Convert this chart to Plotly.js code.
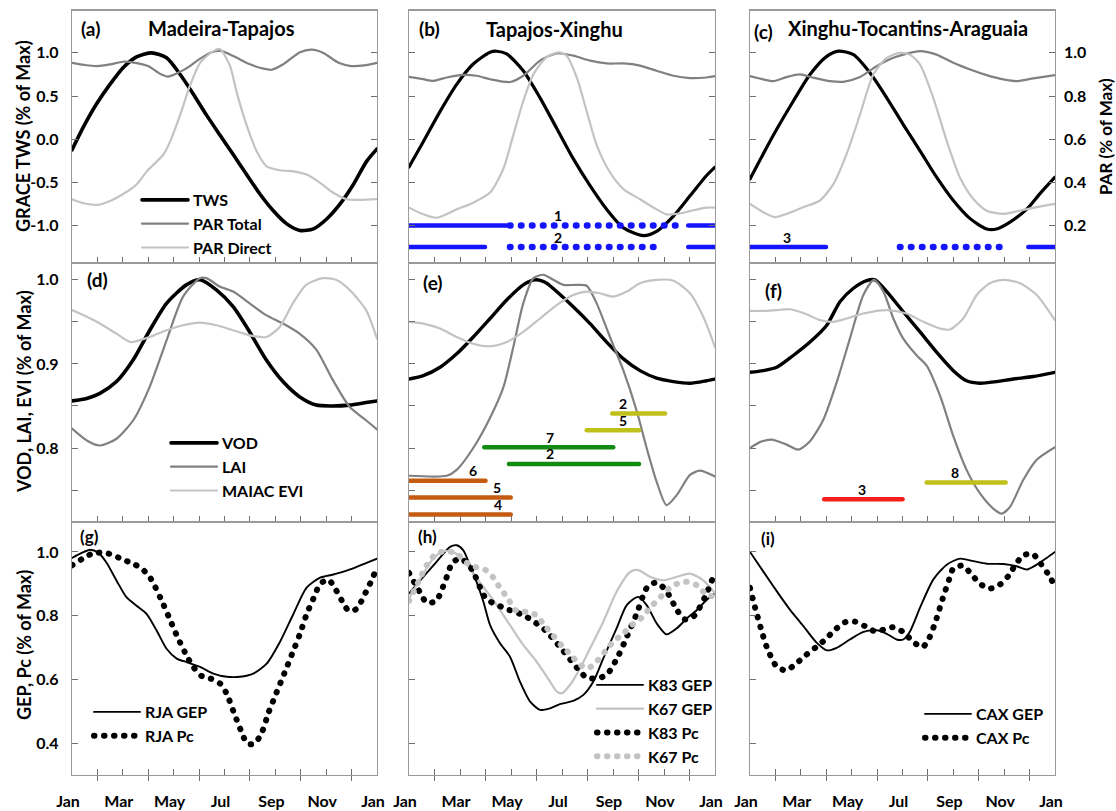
<!DOCTYPE html>
<html><head><meta charset="utf-8">
<script src="https://cdn.plot.ly/plotly-3.0.1.min.js"></script>
<style>html,body{margin:0;padding:0;background:#fff}</style>
</head><body><div id="chart" style="width:1116px;height:811px"></div>
<script>
// ---------------- DATA (months: 0 = Jan ... 12 = next Jan) ----------------
const monthTickVals = [0,1,2,3,4,5,6,7,8,9,10,11,12];
const monthTickText = ['Jan','','Mar','','May','','Jul','','Sep','','Nov','','Jan'];

// (a) Madeira-Tapajos
const tws_a_m = [0,0.45,0.97,1.5,2.01,2.54,3.13,3.72,4.25,4.77,5.3,5.82,6.35,6.87,7.4,7.92,8.45,8.97,9.5,10.02,10.54,11.07,11.59,12];
const tws_a   = [-0.124,0.143,0.41,0.638,0.829,0.954,1.0,0.943,0.752,0.524,0.276,0.048,-0.181,-0.41,-0.638,-0.829,-0.981,-1.057,-1.038,-0.924,-0.752,-0.524,-0.257,-0.112];
const parTot_a_m = [0,0.5,1.0,1.5,2.0,2.49,2.99,3.5,3.79,4.25,4.64,5.0,5.5,5.89,6.35,7.0,7.53,7.86,8.31,8.97,9.43,9.89,10.49,10.99,11.5,12];
const parTot_a   = [0.954,0.944,0.939,0.947,0.959,0.954,0.939,0.901,0.89,0.912,0.939,0.97,1.003,1.008,0.985,0.947,0.927,0.922,0.947,1.003,1.015,1.0,0.954,0.939,0.942,0.954];
const parDir_a_m = [0,0.5,1.0,1.5,2.0,2.54,2.94,3.59,3.86,4.25,4.64,5.04,5.56,5.82,6.22,6.48,6.87,7.27,7.66,8.18,8.71,9.23,9.76,10.28,10.81,11.33,12];
const parDir_a   = [0.322,0.302,0.296,0.314,0.345,0.39,0.451,0.528,0.589,0.71,0.848,0.954,1.008,1.018,0.939,0.817,0.665,0.543,0.474,0.456,0.451,0.436,0.398,0.352,0.322,0.319,0.322];

// (b) Tapajos-Xinghu
const tws_b_m = [0,0.56,1.22,1.87,2.52,3.18,3.44,3.83,4.48,5.14,5.79,6.44,7.1,7.75,8.41,9.19,9.71,10.37,11.02,11.67,12];
const tws_b   = [-0.323,-0.029,0.323,0.636,0.871,1.008,1.019,0.988,0.793,0.479,0.127,-0.225,-0.538,-0.812,-1.027,-1.117,-1.067,-0.89,-0.656,-0.421,-0.323];
const parTot_b_m = [0,0.56,0.95,1.48,2.13,2.65,3.18,3.96,4.48,5.14,5.79,6.44,7.1,7.75,8.41,9.06,9.71,10.37,11.02,11.67,12];
const parTot_b   = [0.889,0.878,0.87,0.886,0.898,0.894,0.878,0.865,0.894,0.964,0.998,0.987,0.964,0.951,0.951,0.941,0.917,0.894,0.883,0.886,0.892];
const parDir_b_m = [0,0.56,1.08,1.87,2.52,3.18,3.7,4.09,4.48,4.88,5.4,5.86,6.18,6.58,6.97,7.36,7.88,8.41,9.06,9.71,10.1,10.63,11.02,11.67,12];
const parDir_b   = [0.283,0.252,0.236,0.275,0.306,0.353,0.463,0.619,0.776,0.901,0.98,1.003,0.987,0.886,0.729,0.573,0.447,0.369,0.322,0.275,0.252,0.256,0.267,0.283,0.283];

// (c) Xinghu-Tocantins-Araguaia
const tws_c_m = [0,0.52,1.05,1.7,2.36,3.02,3.48,4.07,4.72,5.38,6.03,6.69,7.34,8.0,8.66,9.31,9.7,10.23,10.89,11.41,12];
const tws_c   = [-0.46,-0.17,0.115,0.44,0.75,0.96,1.02,0.98,0.77,0.48,0.17,-0.135,-0.44,-0.71,-0.92,-1.04,-1.04,-0.96,-0.81,-0.63,-0.44];
const parTot_c_m = [0,0.52,0.92,1.44,1.97,2.49,3.15,3.67,4.33,4.98,5.64,6.29,6.69,7.34,8.0,8.66,9.31,9.97,10.49,11.15,12];
const parTot_c   = [0.892,0.877,0.869,0.888,0.9,0.885,0.869,0.866,0.888,0.938,0.977,1.0,1.008,0.992,0.954,0.923,0.897,0.877,0.869,0.882,0.897];
const parDir_c_m = [0,0.52,0.98,1.44,2.1,2.75,3.28,3.8,4.33,4.85,5.38,5.9,6.29,6.69,7.21,7.74,8.26,8.79,9.31,9.97,10.62,11.28,12];
const parDir_c   = [0.3,0.262,0.239,0.254,0.285,0.316,0.392,0.531,0.715,0.9,0.977,1.0,0.992,0.946,0.792,0.592,0.423,0.323,0.269,0.254,0.269,0.285,0.3];

// dry-season bars (PAR axis level, month intervals)
const dry_b_level = [0.2, 0.1];
const dry_b_solid = [[[0,3.9],[10.95,12]], [[0,2.98],[10.95,12]]];
const dry_b_dotted = [[[3.96,10.63]], [[3.96,9.65]]];
const dry_b_label = ['1','2'];
const dry_b_labelAt = [5.86, 5.86];
const dry_c_level = [0.1];
const dry_c_solid = [[[0,2.99],[10.95,12]]];
const dry_c_dotted = [[[5.9,9.9]]];
const dry_c_label = ['3'];
const dry_c_labelAt = [1.44];

// (d)
const vod_d_m = [0,0.58,1.1,1.75,2.41,3.06,3.72,4.5,5.03,5.68,6.34,6.99,7.64,8.3,8.95,9.61,10.26,10.92,11.57,12];
const vod_d   = [0.856,0.859,0.865,0.879,0.905,0.94,0.972,0.994,1.0,0.988,0.968,0.938,0.905,0.879,0.861,0.851,0.85,0.851,0.854,0.856];
const lai_d_m = [0,0.58,1.1,1.75,2.41,3.06,3.72,4.37,5.03,5.29,5.81,6.34,6.99,7.64,8.3,8.95,9.61,10.26,10.92,11.57,12];
const lai_d   = [0.823,0.809,0.803,0.811,0.833,0.873,0.928,0.98,1.002,1.002,0.992,0.986,0.972,0.958,0.948,0.936,0.917,0.881,0.849,0.833,0.822];
const evi_d_m = [0,0.58,1.1,1.75,2.3,3.06,3.72,4.37,5.03,5.68,6.34,6.99,7.64,8.17,8.69,9.21,9.87,10.39,10.92,11.57,12];
const evi_d   = [0.964,0.956,0.948,0.936,0.926,0.932,0.94,0.946,0.949,0.946,0.94,0.934,0.932,0.944,0.972,0.994,1.002,1.0,0.988,0.964,0.93];

// (e)
const vod_e_m = [0,0.56,1.22,1.87,2.52,3.18,3.83,4.48,4.97,5.4,5.79,6.44,7.1,7.75,8.41,9.06,9.71,10.37,11.02,11.67,12];
const vod_e   = [0.882,0.886,0.896,0.912,0.932,0.954,0.976,0.994,1.0,0.996,0.986,0.968,0.948,0.926,0.906,0.892,0.883,0.879,0.877,0.88,0.882];
const lai_e_m = [0,1.48,1.87,2.52,3.18,3.7,4.09,4.48,4.88,5.27,5.66,6.05,6.58,6.97,7.36,7.88,8.41,8.93,9.32,9.71,10.1,10.5,11.02,11.41,12];
const lai_e   = [0.767,0.767,0.774,0.8,0.836,0.872,0.92,0.972,1.002,1.006,1.0,0.994,0.994,0.993,0.972,0.932,0.892,0.844,0.8,0.76,0.732,0.744,0.768,0.773,0.766];
const evi_e_m = [0,0.56,1.22,1.87,2.52,3.18,3.83,4.48,5.14,5.79,6.44,6.97,7.49,8.01,8.54,9.06,9.71,10.37,11.02,11.54,12];
const evi_e   = [0.95,0.948,0.942,0.932,0.924,0.921,0.926,0.938,0.954,0.97,0.982,0.986,0.984,0.98,0.986,0.996,1.0,0.999,0.984,0.956,0.92];
const bars_e_label = ['2','5','7','2','6','5','4'];
const bars_e_start = [7.97,6.97,2.95,3.92,0,0,0];
const bars_e_end   = [10.04,9.02,8.01,9.02,3.0,3.99,3.99];
const bars_e_level = [0.841,0.821,0.801,0.781,0.761,0.741,0.721];
const bars_e_kind  = ['yellow','yellow','green','green','orange','orange','orange'];
const bars_e_labelAt = [8.4,8.4,5.53,5.53,2.52,3.44,3.5];

// (f)
const vod_f_m = [0,0.52,1.05,1.7,2.36,3.02,3.54,4.07,4.59,4.92,5.38,6.03,6.69,7.34,8.0,8.52,9.05,9.7,10.36,11.15,12];
const vod_f   = [0.89,0.892,0.896,0.91,0.926,0.946,0.974,0.99,0.999,1.0,0.986,0.962,0.938,0.914,0.892,0.88,0.877,0.879,0.882,0.885,0.89];
const lai_f_m = [0,0.39,0.85,1.44,1.9,2.36,2.89,3.41,3.93,4.46,4.88,5.25,5.64,6.03,6.56,6.95,7.48,8.0,8.52,9.05,9.57,9.9,10.23,10.75,11.28,12];
const lai_f   = [0.8,0.807,0.81,0.804,0.798,0.808,0.834,0.878,0.93,0.982,1.0,0.986,0.954,0.93,0.91,0.898,0.862,0.814,0.774,0.746,0.728,0.722,0.73,0.762,0.786,0.801];
const evi_f_m = [0,0.52,1.05,1.57,2.23,2.75,3.28,3.8,4.46,5.38,6.16,6.82,7.48,7.87,8.39,8.92,9.44,9.97,10.62,11.28,12];
const evi_f   = [0.963,0.963,0.964,0.965,0.959,0.952,0.95,0.954,0.96,0.964,0.96,0.95,0.942,0.941,0.954,0.982,0.996,1.0,0.996,0.982,0.952];
const bars_f_label = ['3','8'];
const bars_f_start = [2.92,6.95];
const bars_f_end   = [6.0,10.06];
const bars_f_level = [0.739,0.759];
const bars_f_kind  = ['red','yellow'];
const bars_f_labelAt = [4.39,8.07];

// (g) RJA
const gep_rja_m = [0,0.38,0.71,1.04,1.36,1.76,2.15,2.54,2.94,3.33,3.72,4.12,4.51,5.04,5.56,6.09,6.61,7.13,7.66,8.18,8.71,9.23,9.76,10.28,10.94,11.59,12];
const gep_rja   = [0.981,0.997,1.007,0.997,0.966,0.909,0.857,0.831,0.805,0.753,0.696,0.665,0.654,0.639,0.618,0.608,0.608,0.618,0.649,0.717,0.805,0.888,0.919,0.929,0.945,0.966,0.979];
const pc_rja_m = [0,0.42,0.81,1.21,1.6,1.99,2.39,2.78,3.1,3.49,3.83,4.16,4.54,4.77,5.09,5.46,5.85,6.09,6.39,6.7,6.87,7.05,7.24,7.48,7.74,8.05,8.35,8.66,8.97,9.23,9.56,9.73,9.95,10.12,10.39,10.61,10.85,11.05,11.23,11.44,11.63,11.82,12];
const pc_rja   = [0.958,0.979,0.995,0.998,0.991,0.976,0.964,0.945,0.916,0.854,0.792,0.731,0.67,0.639,0.611,0.602,0.585,0.554,0.491,0.429,0.4,0.396,0.403,0.435,0.497,0.559,0.618,0.68,0.743,0.804,0.865,0.896,0.91,0.911,0.88,0.848,0.818,0.815,0.824,0.854,0.885,0.916,0.955];

// (h) K83 / K67
const gep_k83_m = [0,0.56,1.08,1.61,1.87,2.13,2.39,2.65,2.92,3.18,3.57,3.96,4.35,4.75,5.14,5.53,5.92,6.44,6.84,7.23,7.62,8.14,8.54,8.99,9.32,9.71,10.1,10.5,10.89,11.28,11.67,12];
const gep_k83   = [0.87,0.922,0.969,1.016,1.021,1.005,0.958,0.906,0.843,0.77,0.713,0.671,0.593,0.53,0.504,0.509,0.522,0.532,0.551,0.593,0.666,0.76,0.833,0.859,0.833,0.776,0.741,0.76,0.791,0.817,0.849,0.87];
const gep_k67_m = [0,0.56,0.95,1.35,1.74,2.13,2.52,2.92,3.44,3.96,4.48,5.0,5.53,5.79,5.99,6.31,6.71,7.1,7.62,8.14,8.67,8.99,9.45,9.97,10.5,11.02,11.54,12];
const gep_k67   = [0.854,0.932,0.979,1.002,1.0,0.974,0.932,0.89,0.833,0.77,0.708,0.656,0.593,0.562,0.556,0.582,0.635,0.697,0.781,0.875,0.937,0.943,0.922,0.911,0.922,0.932,0.911,0.87];
const pc_k83_m = [0,0.43,0.69,1.06,1.41,1.71,2.03,2.46,3.02,3.76,4.55,5.33,5.99,6.6,6.97,7.36,7.75,8.21,8.56,8.9,9.35,9.71,10.08,10.52,10.82,11.18,11.61,11.93];
const pc_k83   = [0.934,0.873,0.841,0.846,0.906,0.967,0.979,0.946,0.854,0.823,0.799,0.755,0.695,0.635,0.605,0.603,0.614,0.674,0.737,0.8,0.89,0.904,0.879,0.816,0.788,0.799,0.859,0.921];
const pc_k67_m = [0,0.37,0.69,1.08,1.48,1.87,2.2,2.59,2.95,3.31,3.57,3.86,4.22,4.61,4.97,5.33,5.66,5.99,6.38,6.68,7.03,7.36,7.69,8.01,8.41,8.73,9.12,9.49,9.84,10.2,10.6,10.97,11.31,11.67,12];
const pc_k67   = [0.846,0.906,0.958,0.995,1.002,0.995,0.969,0.953,0.946,0.919,0.887,0.856,0.814,0.812,0.802,0.768,0.737,0.706,0.674,0.647,0.635,0.656,0.687,0.718,0.744,0.77,0.793,0.828,0.856,0.885,0.903,0.906,0.894,0.866,0.859];

// (i) CAX
const gep_cax_m = [0,0.52,1.05,1.57,2.1,2.62,3.02,3.41,3.93,4.46,4.98,5.38,5.77,6.03,6.3,6.69,7.21,7.74,8.26,8.79,9.31,9.97,10.49,10.89,11.28,11.67,12];
const gep_cax   = [1.0,0.939,0.877,0.819,0.767,0.715,0.691,0.699,0.725,0.749,0.754,0.743,0.725,0.725,0.751,0.825,0.913,0.96,0.979,0.971,0.963,0.962,0.955,0.945,0.96,0.981,1.0];
const pc_cax_m = [0,0.2,0.42,0.66,1.05,1.42,1.81,2.2,2.6,2.99,3.36,3.76,4.14,4.52,4.92,5.31,5.69,6.06,6.43,6.79,7.06,7.34,7.58,7.84,8.0,8.37,8.72,9.05,9.44,9.84,10.18,10.43,10.75,11.12,11.44,11.7,11.93];
const pc_cax   = [0.887,0.825,0.762,0.701,0.64,0.628,0.649,0.676,0.701,0.727,0.757,0.78,0.781,0.767,0.751,0.757,0.764,0.746,0.717,0.701,0.731,0.791,0.853,0.915,0.948,0.957,0.929,0.9,0.885,0.898,0.926,0.958,0.989,0.994,0.963,0.934,0.903];

// ---------------- STYLE ----------------
const W = 1116, H = 811;
const FONT = 'Lato, "Open Sans", Arial, sans-serif';
const AXC = '#9a9a9a', TKC = '#707070';
const C_BLACK = '#000000', C_MID = '#808080', C_LIGHT = '#c3c3c3';
const C_BLUE = '#1414ff';
const BAR_COL = {orange:'#c55a11', green:'#138a13', yellow:'#c0c01a', red:'#f51c1c'};
const DOTS = '0.5px,9.5px';
const colPx = [[72,377],[409,715],[750,1055]];
const rowPx = [[10.5,263],[263,522],[522,775]];
const TWS_RANGE = [-1.434, 1.491];
const PAR_RANGE = [0.6 + 0.4*TWS_RANGE[0], 0.6 + 0.4*TWS_RANGE[1]];
const ROW2_RANGE = [0.712, 1.020];
const ROW3_RANGE = [0.2995, 1.094];

const ax = p => (p === 1 ? '' : String(p));
const traces = [];
function addLine(m, v, p, color, width, dash, name, legend, yax) {
  traces.push({
    type:'scatter', mode:'lines', x:m, y:v,
    xaxis:'x'+ax(p), yaxis: yax || ('y'+ax(p)),
    line:{color:color, width:width, dash:dash||'solid', shape:'spline', smoothing:0.7},
    name:name||'', showlegend:!!legend, legend:legend||'legend',
    legendgroup:(name||'')+p, hoverinfo:'skip'
  });
}
function addSeg(x0, x1, level, p, yax, color, width, dash) {
  traces.push({
    type:'scatter', mode:'lines', x:[x0,x1], y:[level,level],
    xaxis:'x'+ax(p), yaxis:yax, showlegend:false, hoverinfo:'skip',
    line:{color:color, width:width, dash:dash||'solid'}
  });
}

// row 1 (PAR on overlay axes y10,y11,y12)
addLine(tws_a_m, tws_a, 1, C_BLACK, 3.6, null, 'TWS', 'legend');
addLine(parTot_a_m, parTot_a, 1, C_MID, 2.2, null, 'PAR Total', 'legend', 'y10');
addLine(parDir_a_m, parDir_a, 1, C_LIGHT, 2.2, null, 'PAR Direct', 'legend', 'y10');
addLine(tws_b_m, tws_b, 2, C_BLACK, 3.2);
addLine(parTot_b_m, parTot_b, 2, C_MID, 2.2, null, null, null, 'y11');
addLine(parDir_b_m, parDir_b, 2, C_LIGHT, 2.2, null, null, null, 'y11');
addLine(tws_c_m, tws_c, 3, C_BLACK, 3.2);
addLine(parTot_c_m, parTot_c, 3, C_MID, 2.2, null, null, null, 'y12');
addLine(parDir_c_m, parDir_c, 3, C_LIGHT, 2.2, null, null, null, 'y12');

dry_b_level.forEach((lv,i) => {
  dry_b_solid[i].forEach(s => addSeg(s[0], s[1], lv, 2, 'y11', C_BLUE, 4.5));
  dry_b_dotted[i].forEach(s => addSeg(s[0], s[1], lv, 2, 'y11', C_BLUE, 6.5, '0.5px,10.5px'));
});
dry_c_level.forEach((lv,i) => {
  dry_c_solid[i].forEach(s => addSeg(s[0], s[1], lv, 3, 'y12', C_BLUE, 4.5));
  dry_c_dotted[i].forEach(s => addSeg(s[0], s[1], lv, 3, 'y12', C_BLUE, 6.5, '0.5px,10.5px'));
});

// row 2
addLine(vod_d_m, vod_d, 4, C_BLACK, 3.6, null, 'VOD', 'legend2');
addLine(lai_d_m, lai_d, 4, C_MID, 2.2, null, 'LAI', 'legend2');
addLine(evi_d_m, evi_d, 4, C_LIGHT, 2.2, null, 'MAIAC EVI', 'legend2');
addLine(vod_e_m, vod_e, 5, C_BLACK, 3.4);
addLine(lai_e_m, lai_e, 5, C_MID, 2.2);
addLine(evi_e_m, evi_e, 5, C_LIGHT, 2.2);
addLine(vod_f_m, vod_f, 6, C_BLACK, 3.4);
addLine(lai_f_m, lai_f, 6, C_MID, 2.2);
addLine(evi_f_m, evi_f, 6, C_LIGHT, 2.2);
bars_e_level.forEach((lv,i) => addSeg(bars_e_start[i], bars_e_end[i], lv, 5, 'y5', BAR_COL[bars_e_kind[i]], 4.5));
bars_f_level.forEach((lv,i) => addSeg(bars_f_start[i], bars_f_end[i], lv, 6, 'y6', BAR_COL[bars_f_kind[i]], 4.5));

// row 3
addLine(gep_rja_m, gep_rja, 7, C_BLACK, 1.9, null, 'RJA GEP', 'legend3');
addLine(pc_rja_m, pc_rja, 7, C_BLACK, 6, DOTS, 'RJA Pc', 'legend3');
addLine(gep_k83_m, gep_k83, 8, C_BLACK, 1.9, null, 'K83 GEP', 'legend4');
addLine(gep_k67_m, gep_k67, 8, C_LIGHT, 2.2, null, 'K67 GEP', 'legend4');
addLine(pc_k83_m, pc_k83, 8, C_BLACK, 6, DOTS, 'K83 Pc', 'legend4');
addLine(pc_k67_m, pc_k67, 8, C_LIGHT, 6, DOTS, 'K67 Pc', 'legend4');
addLine(gep_cax_m, gep_cax, 9, C_BLACK, 1.9, null, 'CAX GEP', 'legend5');
addLine(pc_cax_m, pc_cax, 9, C_BLACK, 6, DOTS, 'CAX Pc', 'legend5');
// empty traces so the odd-month tick overlay axes exist
[10,11,12].forEach(k => traces.push({type:'scatter', mode:'lines', x:[], y:[], xaxis:'x'+k, yaxis:'y'+(k-3), showlegend:false, hoverinfo:'skip'}));

// ---------------- LAYOUT ----------------
const tickFont = {family:FONT, size:16, color:'#000', weight:700};
const layout = {
  width:W, height:H, margin:{l:0,r:0,t:0,b:0},
  paper_bgcolor:'#fff', plot_bgcolor:'rgba(0,0,0,0)',
  font:{family:FONT, color:'#000'},
  showlegend:true, hovermode:false,
  annotations:[], shapes:[]
};
const xd = c => [colPx[c][0]/W, colPx[c][1]/W];
const yd = r => [1 - rowPx[r][1]/H, 1 - rowPx[r][0]/H];
for (let p = 1; p <= 9; p++) {
  const r = Math.floor((p-1)/3), c = (p-1)%3;
  layout['xaxis'+ax(p)] = {
    domain:xd(c), anchor:'y'+ax(p), range:[0,12], tickmode:'array',
    tickvals:monthTickVals, ticktext: r===2 ? monthTickText : monthTickVals.map(()=>''),
    ticks:'inside', ticklen:6, tickwidth:1, tickcolor:TKC,
    showline:true, linecolor:AXC, linewidth:1.2, mirror:true,
    showgrid:false, zeroline:false, fixedrange:true,
    tickfont:tickFont, ticklabelstandoff:12, ticklabelshift:-4
  };
  let yv, yt, rg;
  if (r === 0) { yv=[-1,-0.5,0,0.5,1]; yt=['-1.0','-0.5','0.0','0.5','1.0']; rg=TWS_RANGE; }
  else if (r === 1) { yv=[0.75,0.8,0.85,0.9,0.95,1.0]; yt=['','0.8','','0.9','','1.0']; rg=ROW2_RANGE; }
  else { yv=[0.4,0.6,0.8,1.0]; yt=['0.4','0.6','0.8','1.0']; rg=ROW3_RANGE; }
  layout['yaxis'+ax(p)] = {
    domain:yd(r), anchor:'x'+ax(p), range:rg, tickmode:'array', tickvals:yv,
    ticktext: c===0 ? yt : yv.map(()=>''),
    ticks:'inside', ticklen:6, tickwidth:1, tickcolor:TKC,
    showline:true, linecolor:AXC, linewidth:1.2, mirror:true,
    showgrid:false, zeroline:false, fixedrange:true,
    tickfont:tickFont, ticklabelstandoff:9
  };
}
// PAR overlay axes
[10,11,12].forEach((k,i) => {
  layout['yaxis'+k] = {
    overlaying:'y'+ax(i+1), anchor:'x'+ax(i+1), side:'right', range:PAR_RANGE,
    tickmode:'array', tickvals:[0.2,0.4,0.6,0.8,1.0],
    ticktext: i===2 ? ['0.2','0.4','0.6','0.8','1.0'] : ['','','','',''],
    ticks:'inside', ticklen:6, tickwidth:1, tickcolor:TKC,
    showline:false, showgrid:false, zeroline:false, fixedrange:true,
    tickfont:tickFont, ticklabelstandoff:8
  };
});
// odd-month outward ticks on bottom row
[10,11,12].forEach((k,i) => {
  layout['xaxis'+k] = {
    overlaying:'x'+(7+i), anchor:'y'+(7+i), side:'bottom', range:[0,12],
    tickmode:'array', tickvals:[1,3,5,7,9,11], ticks:'outside', ticklen:5, tickwidth:1, tickcolor:TKC,
    showticklabels:false, showline:false, showgrid:false, zeroline:false, fixedrange:true
  };
});

// legends
const legFont = {family:FONT, size:16, color:'#000', weight:700};
const LEG_ITEM_W = 46;
function leg(textX, firstY) {
  return {x:(textX-LEG_ITEM_W-10)/W, y:1-(firstY-17)/H, xanchor:'left', yanchor:'top',
          bgcolor:'rgba(0,0,0,0)', borderwidth:0, font:legFont, tracegroupgap:4.5,
          itemwidth:LEG_ITEM_W, traceorder:'normal', itemclick:false, itemdoubleclick:false};
}
layout.legend  = leg(193, 200);
layout.legend2 = leg(222, 443);
layout.legend3 = leg(145, 712);
layout.legend4 = leg(648, 685);
layout.legend5 = leg(976, 714);

// text annotations
function ann(text, xpx, ypx, size, extra) {
  layout.annotations.push(Object.assign({
    text:text, xref:'paper', yref:'paper', x:xpx/W, y:1-ypx/H,
    xanchor:'center', yanchor:'middle', showarrow:false,
    font:{family:FONT, size:size, color:'#000', weight:700}
  }, extra||{}));
}
ann('(a)', 90, 28, 19); ann('Madeira-Tapajos', 221, 28, 20);
ann('(b)', 430, 28, 19); ann('Tapajos-Xinghu', 554, 29, 20);
ann('(c)', 763, 31, 19); ann('Xinghu-Tocantins-Araguaia', 908, 28, 20);
ann('(d)', 97, 280, 19); ann('(e)', 433, 283, 19); ann('(f)', 773, 290, 19);
ann('(g)', 89, 536, 17); ann('(h)', 427, 536, 17); ann('(i)', 768, 538, 17);
ann('GRACE TWS (% of Max)', 23, 136, 18, {textangle:-90});
ann('VOD, LAI, EVI (% of Max)', 24, 392, 18, {textangle:-90});
ann('GEP, Pc (% of Max)', 24, 645, 18, {textangle:-90});
ann('PAR (% of Max)', 1105, 137, 17, {textangle:-90});

function barLabel(text, m, level, xa, ya) {
  layout.annotations.push({text:text, xref:xa, yref:ya, x:m, y:level, yshift:10,
    xanchor:'center', yanchor:'middle', showarrow:false,
    font:{family:FONT, size:14, color:'#000', weight:700}});
}
dry_b_label.forEach((t,i) => barLabel(t, dry_b_labelAt[i], dry_b_level[i], 'x2', 'y11'));
dry_c_label.forEach((t,i) => barLabel(t, dry_c_labelAt[i], dry_c_level[i], 'x3', 'y12'));
bars_e_label.forEach((t,i) => barLabel(t, bars_e_labelAt[i], bars_e_level[i], 'x5', 'y5'));
bars_f_label.forEach((t,i) => barLabel(t, bars_f_labelAt[i], bars_f_level[i], 'x6', 'y6'));

Plotly.newPlot('chart', traces, layout, {staticPlot:true, displayModeBar:false}).then(gd => {
  gd.querySelectorAll('path.js-line').forEach(p => { p.style.strokeLinecap = 'round'; p.style.strokeLinejoin = 'round'; });
});
</script>
</body></html>
